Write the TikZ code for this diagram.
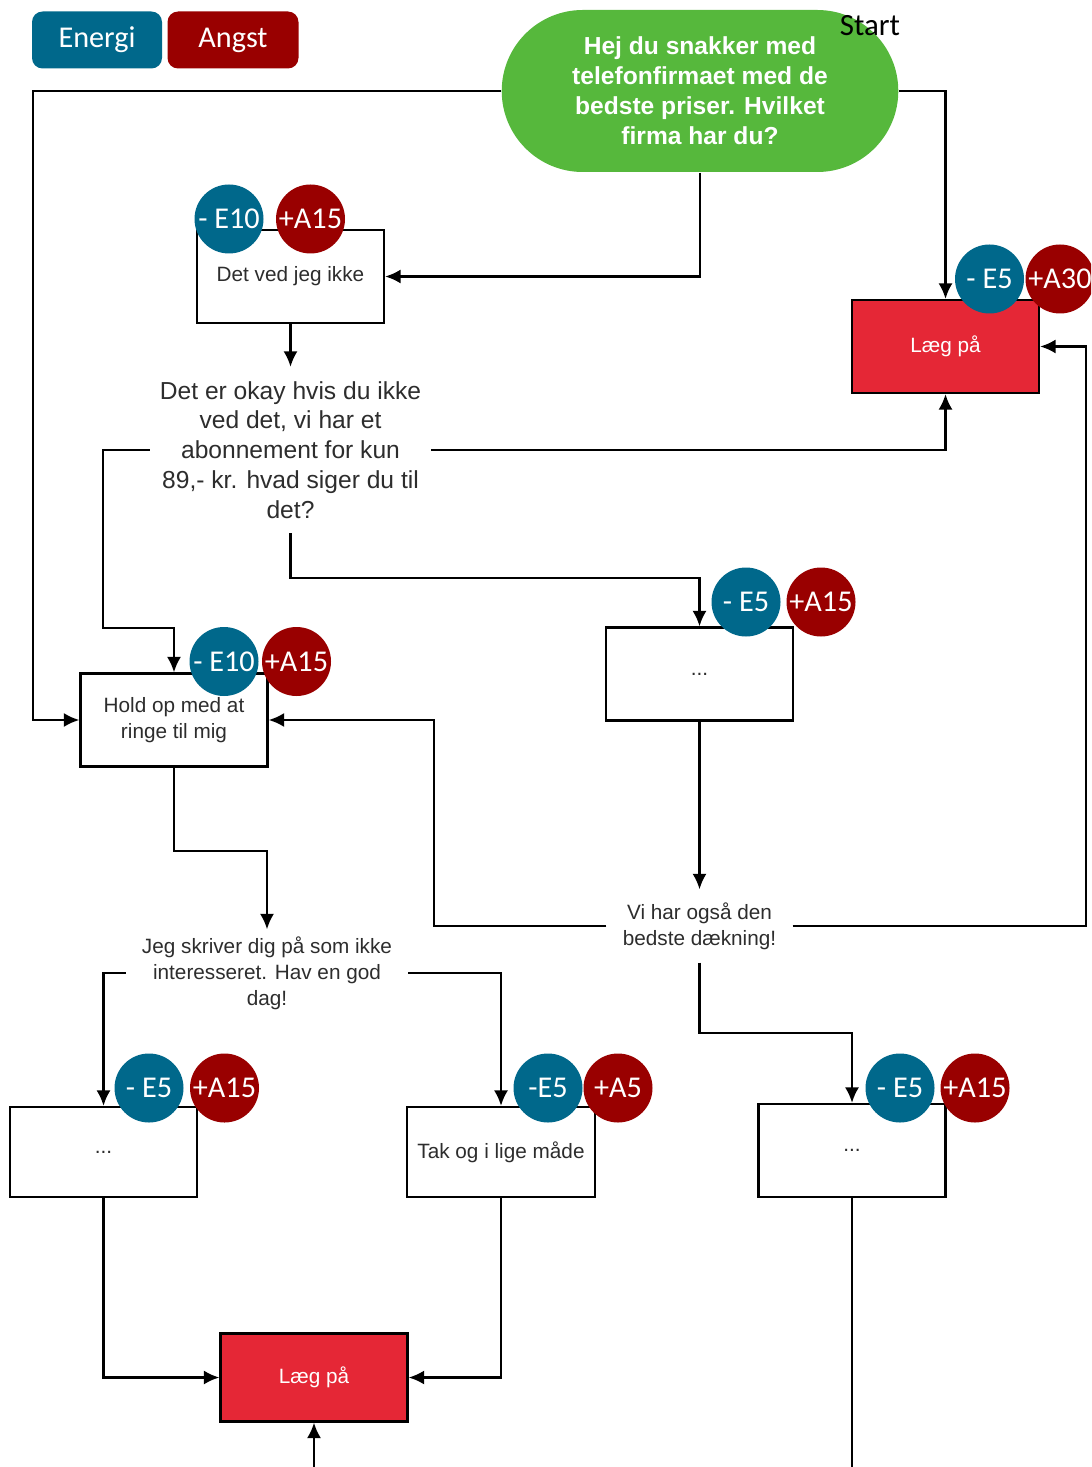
\documentclass[tikz,border=0pt]{standalone}
\usepackage{fontspec}
\setmainfont{Liberation Sans}
\newfontfamily\calib{Carlito}
\usepackage{xcolor}
\usepackage{tikz}
\usetikzlibrary{shapes.misc, arrows.meta, positioning}
\definecolor{energiblue}{RGB}{0, 104, 139}
\definecolor{angstred}{RGB}{153, 0, 0}
\definecolor{hangred}{RGB}{229, 39, 54}
\definecolor{startgreen}{RGB}{86, 184, 60}
\definecolor{boxtext}{RGB}{45, 45, 45}

\begin{document}
\begin{tikzpicture}[
    box/.style={rectangle, draw=black, line width=0.65pt, fill=white,
                minimum width=1.87cm, minimum height=0.93cm, inner sep=1pt,
                align=center, text=boxtext, font=\fontsize{5.9}{7.4}\selectfont},
    hangup/.style={box, fill=hangred, text=white},
    said/.style={rectangle, inner sep=0pt, align=center, text=boxtext,
                 font=\fontsize{5.9}{7.4}\selectfont},
    saidbig/.style={said, font=\fontsize{7}{8.5}\selectfont},
    ebadge/.style={circle, fill=energiblue, text=white, minimum size=0.69cm,
                   inner sep=0pt, font=\calib\fontsize{8.6}{9}\selectfont},
    abadge/.style={ebadge, fill=angstred},
    legend/.style={rectangle, rounded corners=3pt, text=white, minimum height=0.57cm,
                   inner sep=0pt, font=\calib\fontsize{8.6}{9}\selectfont},
    flow/.style={-{Latex[length=4.4pt,width=4pt]}, line width=0.65pt},
    plain/.style={line width=0.65pt}
]
\clip (0,0) rectangle (10.91,-14.67);

%% Legend
\node[legend, fill=energiblue, minimum width=1.30cm] (LE) at (0.97,-0.40) {Energi};
\node[legend, fill=angstred,   minimum width=1.31cm] (LA) at (2.33,-0.40) {Angst};

%% Start
\node[rounded rectangle, fill=startgreen, text=white, minimum width=4.20cm,
      minimum height=1.62cm, align=center,
      font=\bfseries\fontsize{7}{8.5}\selectfont] (START) at (7.00,-0.91)
      {Hej du snakker med\\telefonfirmaet med de\\bedste priser. Hvilket\\firma har du?};
\node[font=\calib\fontsize{8.8}{9}\selectfont, inner sep=0pt] (STL) at (8.70,-0.26) {Start};

%% Boxes
\node[box]    (DVJ)  at (2.905,-2.765) {Det ved jeg ikke};
\node[hangup] (HUP1) at (9.455,-3.465) {Læg på};
\node[box]    (HOLD) at (1.74,-7.20)   {Hold op med at\\ringe til mig};
\node[box]    (DOT1) at (6.995,-6.74)  {...};
\node[box, minimum height=0.90cm] (DOT2) at (1.035,-11.52) {...};
\node[box, minimum width=1.88cm, minimum height=0.90cm] (TAK) at (5.01,-11.52) {Tak og i lige måde};
\node[box]    (DOT3) at (8.52,-11.505) {...};
\node[hangup, minimum height=0.88cm] (HUP2) at (3.14,-13.775) {Læg på};

%% Replies without box
\node[saidbig, minimum width=2.8cm, minimum height=1.65cm] (OKAY) at (2.905,-4.50)
      {Det er okay hvis du ikke\\ved det, vi har et\\abonnement for kun\\89,- kr. hvad siger du til\\det?};
\node[said, minimum width=1.85cm, minimum height=0.72cm] (VIHAR) at (6.995,-9.26)
      {Vi har også den\\bedste dækning!};
\node[said, minimum width=2.81cm, minimum height=0.86cm] (JEG) at (2.67,-9.73)
      {Jeg skriver dig på som ikke\\interesseret. Hav en god\\dag!};

%% Connectors
\coordinate (LEFTRAIL) at (0.33,-0.91);
\draw[flow] (START.west) -- (LEFTRAIL) |- (HOLD.west);
\draw[flow] (START.east) -| (HUP1.north);
\draw[flow] (START.south) |- (DVJ.east);
\draw[flow] (DVJ.south) -- (OKAY.north);
\draw[flow] (OKAY.east) -| (HUP1.south);
\draw[flow] (OKAY.west) -| (1.03,-6.28) -| (HOLD.north);
\draw[flow] (OKAY.south) -- ++(0,-0.45) -| (DOT1.north);
\draw[flow] (DOT1.south) -- (VIHAR.north);
\draw[flow] (VIHAR.west) -- ++(-1.72,0) |- (HOLD.east);
\draw[flow] (VIHAR.east) -- ++(2.935,0) |- (HUP1.east);
\draw[flow] (VIHAR.south) -- ++(0,-0.70) -| (DOT3.north);
\draw[flow] (HOLD.south) -- ++(0,-0.83) -| (JEG.north);
\draw[flow] (JEG.west) -| (DOT2.north);
\draw[flow] (JEG.east) -| (TAK.north);
\draw[flow] (DOT2.south) |- (HUP2.west);
\draw[flow] (TAK.south) |- (HUP2.east);
\coordinate (INLOW)  at (3.14,-14.67);
\coordinate (OUTLOW) at (8.52,-14.67);
\draw[flow]  (INLOW) -- (HUP2.south);
\draw[plain] (DOT3.south) -- (OUTLOW);

%% Energi / Angst badges
\node[ebadge] (DVJE)  at (2.29,-2.19)   {- E10};
\node[abadge] (DVJA)  at (3.105,-2.19)  {+A15};
\node[ebadge] (HUP1E) at (9.895,-2.79)  {- E5};
\node[abadge] (HUP1A) at (10.60,-2.79)  {+A30};
\node[ebadge] (HOLDE) at (2.24,-6.615)  {- E10};
\node[abadge] (HOLDA) at (2.965,-6.615) {+A15};
\node[ebadge] (DOT1E) at (7.46,-6.02)   {- E5};
\node[abadge] (DOT1A) at (8.21,-6.02)   {+A15};
\node[ebadge] (DOT2E) at (1.49,-10.88)  {- E5};
\node[abadge] (DOT2A) at (2.245,-10.88) {+A15};
\node[ebadge] (TAKE)  at (5.48,-10.88)  {-E5};
\node[abadge] (TAKA)  at (6.18,-10.88)  {+A5};
\node[ebadge] (DOT3E) at (9.00,-10.88)  {- E5};
\node[abadge] (DOT3A) at (9.75,-10.88)  {+A15};

\end{tikzpicture}
\end{document}
